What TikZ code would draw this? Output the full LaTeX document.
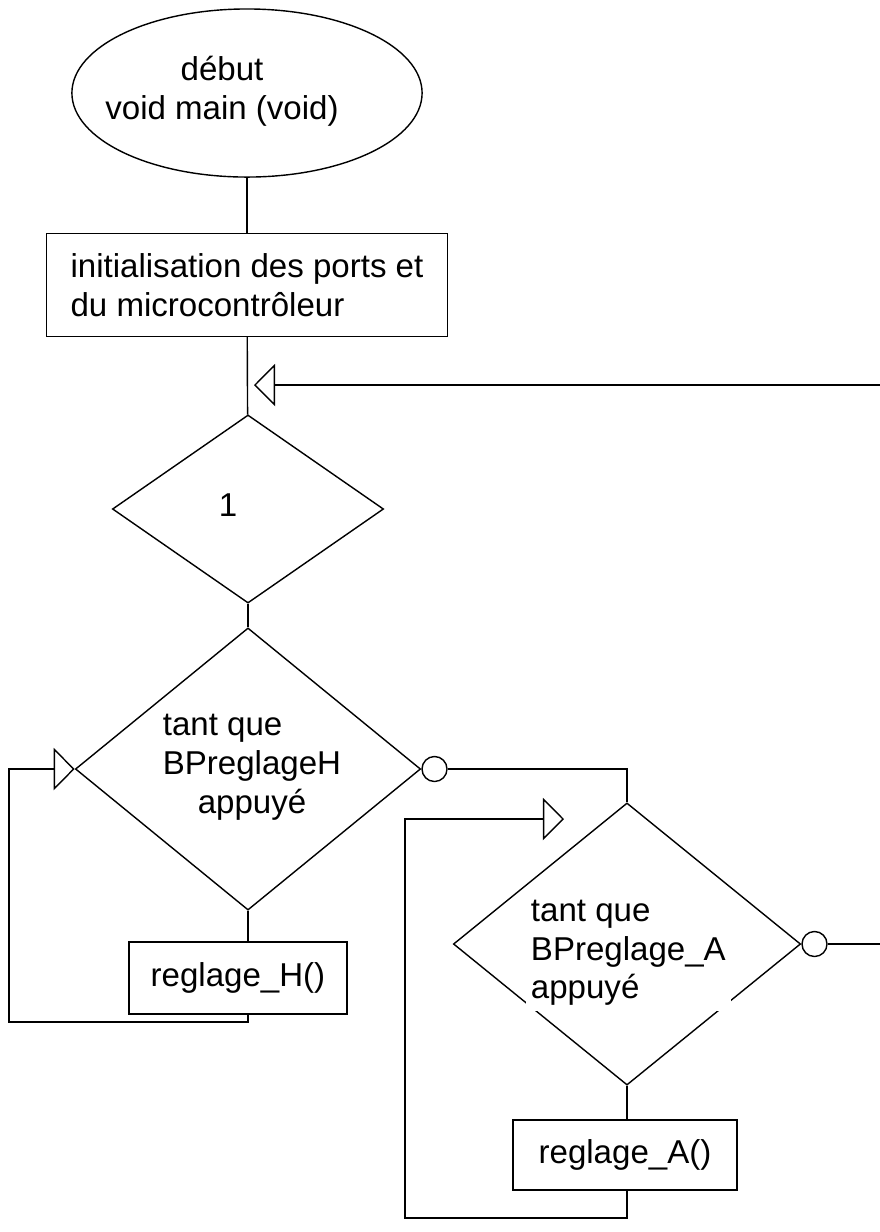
\documentclass[tikz,border=0pt]{standalone}
\usepackage{fontspec}
\setmainfont{Liberation Sans}
\usetikzlibrary{shapes.geometric,arrows.meta}

\begin{document}
\begin{tikzpicture}[x=0.01cm, y=-0.01cm,
  every node/.style={font=\fontsize{9.4}{11}\selectfont},
  bloc/.style={draw, rectangle, inner sep=0pt},
  test/.style={draw, diamond, inner sep=0pt},
  sortie/.style={draw, circle, inner sep=0pt, minimum size=0.25cm, anchor=west},
  boucle/.style={-{Triangle[open, length=6pt, width=12pt]}}]
\useasboundingbox (0,0) rectangle (880,1232);

\node[draw, ellipse, minimum width=3.5cm, minimum height=1.68cm] (debut) at (247,93) {};
\node[align=center] (debuttxt) at (222,91) {début\\void main (void)};

\node[bloc, align=left, minimum width=4.01cm, minimum height=1.03cm] (init) at (247,285)
  {initialisation des ports et\\du microcontrôleur};

\node[test, minimum width=2.71cm, minimum height=1.88cm] (tq1) at (248,509) {};
\node (tq1txt) at (228,505) {1};

\node[test, minimum width=3.45cm, minimum height=2.82cm] (tqH) at (248,769) {};
\node[align=center] (tqHtxt) at (252,766)
  {\rlap{tant que}\phantom{BPreglageH}\\BPreglageH\\appuyé};
\node[sortie] (nonH) at (tqH.east) {};

\node[bloc, minimum width=2.18cm, minimum height=0.72cm] (regH) at (238,978) {reglage\_H()};

\node[test, minimum width=3.47cm, minimum height=2.82cm] (tqA) at (627,944) {};
\node[align=left, fill=white, inner sep=1.5pt, anchor=west] (tqAtxt) at (525,953)
  {tant que\\BPreglage\_A\\appuyé};
\node[sortie] (nonA) at (tqA.east) {};

\node[bloc, minimum width=2.24cm, minimum height=0.70cm] (regA) at (625,1155) {reglage\_A()};

\coordinate (retour) at (880,385);
\coordinate (entree) at (254,385);
\coordinate (cornerH) at (9,1022);
\coordinate (cornerA) at (405,1218);
\coordinate (pointeA) at (564,819);
\coordinate (fin) at (880,944);

\draw (debut) -- (init);
\draw (init) -- (tq1);
\draw[boucle] (retour) -- (entree);
\draw (tq1) -- (tqH);
\draw (tqH) -- (regH.north -| tqH.south);

% boucle reglage heure
\draw[boucle] (regH.south -| tqH.south) |- (cornerH) |- (tqH.west);

\draw (nonH) -| (tqA.north);
\draw (tqA) -- (regA.north -| tqA.south);

% boucle reglage alarme
\draw[boucle] (regA.south -| tqA.south) |- (cornerA) |- (pointeA);

\draw (nonA) -- (fin);
\end{tikzpicture}
\end{document}
